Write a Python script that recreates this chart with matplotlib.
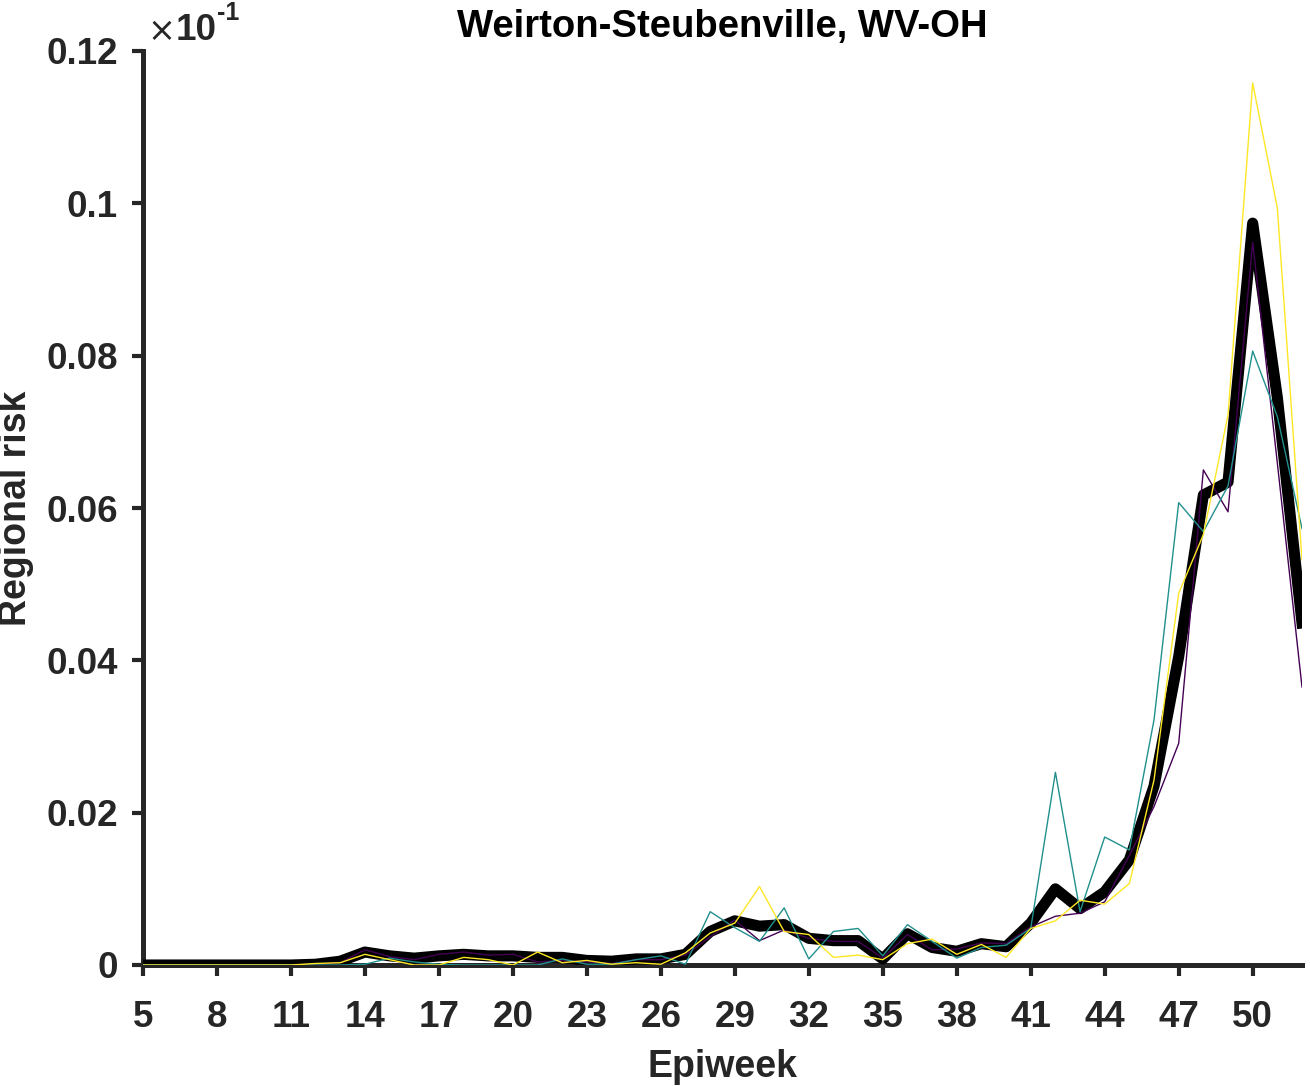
import numpy as np
import matplotlib
matplotlib.use('Agg')
import matplotlib.pyplot as plt

# epiweeks 5..52
weeks = list(range(5, 53))

# mean regional risk (thick black)
risk_mean = [0, 0, 0, 0, 0, 0, 0, 0.0001, 0.0005, 0.0017,
             0.0012, 0.0009, 0.0012, 0.0014, 0.0012, 0.0012, 0.0010, 0.0010, 0.0006, 0.0005,
             0.0008, 0.0008, 0.0014, 0.0044, 0.0058, 0.0051, 0.0053, 0.0035, 0.0032, 0.0032,
             0.0008, 0.0041, 0.0023, 0.0018, 0.0028, 0.0024, 0.0055, 0.0100, 0.0074, 0.0096,
             0.0138, 0.0235, 0.0405, 0.0617, 0.0634, 0.0974, 0.0745, 0.0449]

# individual runs
risk_purple = [0, 0, 0, 0, 0, 0, 0, 0.0001, 0.0003, 0.0020,
               0.0011, 0.0007, 0.0014, 0.0017, 0.0013, 0.0014, 0.0004, 0.0006, 0.0004, 0.0002,
               0.0007, 0.0007, 0.0013, 0.0037, 0.0059, 0.0032, 0.0046, 0.0035, 0.0031, 0.0031,
               0.0009, 0.0040, 0.0020, 0.0021, 0.0029, 0.0028, 0.0050, 0.0064, 0.0068, 0.0083,
               0.0144, 0.0208, 0.0291, 0.0650, 0.0595, 0.0949, 0.0659, 0.0365]

risk_teal = [0, 0, 0, 0, 0, 0, 0, 0, 0, 0.0001,
             0.0009, 0.0004, 0.0001, 0, 0, 0, 0, 0.0008, 0.0001, 0.0001,
             0.0007, 0.0012, 0.0001, 0.0070, 0.0049, 0.0031, 0.0075, 0.0008, 0.0044, 0.0048,
             0.0012, 0.0053, 0.0031, 0.0009, 0.0023, 0.0026, 0.0048, 0.0253, 0.0070, 0.0168,
             0.0151, 0.0322, 0.0607, 0.0569, 0.0629, 0.0806, 0.0720, 0.0573]

risk_yellow = [0, 0, 0, 0, 0, 0, 0, 0.0002, 0.0003, 0.0014,
               0.0007, 0, 0, 0.0010, 0.0007, 0, 0.0017, 0.0003, 0.0006, 0.0001,
               0.0003, 0.0001, 0.0016, 0.0042, 0.0055, 0.0103, 0.0044, 0.0040, 0.0010, 0.0013,
               0.0007, 0.0028, 0.0034, 0.0014, 0.0027, 0.0010, 0.0048, 0.0058, 0.0085, 0.0080,
               0.0107, 0.0243, 0.0488, 0.0565, 0.0722, 0.1158, 0.0994, 0.0532]

xticks = list(range(5, 51, 3))
yticks = [0, 0.02, 0.04, 0.06, 0.08, 0.1, 0.12]
ytick_labels = ['0', '0.02', '0.04', '0.06', '0.08', '0.1', '0.12']

plt.rcParams['font.family'] = ['Liberation Sans', 'DejaVu Sans']
plt.rcParams['font.weight'] = 'bold'

W, H = 1310, 1086
fig = plt.figure(figsize=(W / 100, H / 100), dpi=100)
ax = fig.add_axes([143 / W, 1 - 965 / H, (1302 - 143) / W, (965 - 51) / H])

ax.plot(weeks, risk_mean, color='black', lw=8, solid_joinstyle='round', zorder=2)
ax.plot(weeks, risk_purple, color='#440154', lw=1.0, zorder=3)
ax.plot(weeks, risk_teal, color='#21908d', lw=1.0, zorder=3)
ax.plot(weeks, risk_yellow, color='#fde725', lw=1.0, zorder=3)

ax.set_xlim(5, 52)
ax.set_ylim(0, 0.12)
ax.set_xticks(xticks)
ax.set_xticklabels([str(t) for t in xticks])
ax.set_yticks(yticks)
ax.set_yticklabels(ytick_labels)

for s in ['top', 'right']:
    ax.spines[s].set_visible(False)
for s in ['left', 'bottom']:
    ax.spines[s].set_linewidth(3.6)
    ax.spines[s].set_color('#262626')
    ax.spines[s].set_zorder(1)

ax.tick_params(direction='out', length=8, width=3, color='#262626',
               labelsize=26.5, labelcolor='#262626')
ax.tick_params(axis='x', pad=17)
ax.tick_params(axis='y', pad=10)

ax.set_xlabel('Epiweek', fontsize=27, fontweight='bold', color='#262626', labelpad=10)
ax.set_ylabel('Regional risk', fontsize=27, fontweight='bold', color='#262626')
ax.yaxis.set_label_coords(-0.094, 0.5)
ax.set_title('Weirton-Steubenville, WV-OH', fontsize=27.5, fontweight='bold', color='black', pad=10)

# exponent label
fig.text(147 / W, 1 - 32 / H, '\u00d7', fontsize=24, fontweight='normal', color='#262626',
         ha='left', va='center', family='DejaVu Sans')
fig.text(176 / W, 1 - 40 / H, '10', fontsize=26.5, fontweight='bold', color='#262626',
         ha='left', va='baseline')
fig.text(217 / W, 1 - 20 / H, '-1', fontsize=18, fontweight='bold', color='#262626',
         ha='left', va='baseline')

fig.savefig('out.png', dpi=100)
